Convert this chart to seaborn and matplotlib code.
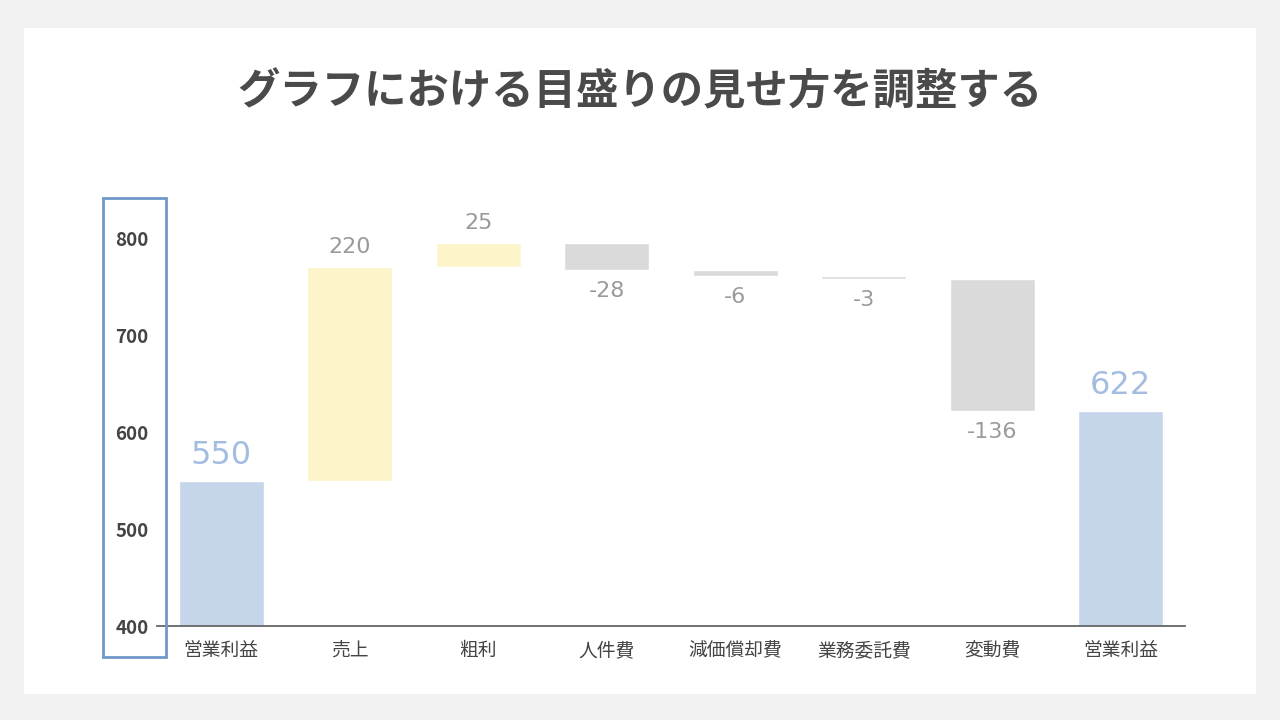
import matplotlib
matplotlib.use("Agg")
import matplotlib.pyplot as plt
from matplotlib.patches import Rectangle
import seaborn as sns
import pandas as pd

categories = ["営業利益", "売上", "粗利", "人件費", "減価償却費", "業務委託費", "変動費", "営業利益 "]
tick_labels = ["営業利益", "売上", "粗利", "人件費", "減価償却費", "業務委託費", "変動費", "営業利益"]
changes = [550, 220, 25, -28, -6, -3, -136, 622]
kinds = ["total", "up", "up", "down", "down", "down", "down", "total"]
y_ticks = [400, 500, 600, 700, 800]
title = "グラフにおける目盛りの見せ方を調整する"

color_map = {"total": "#c5d5ea", "up": "#fdf5c9", "down": "#dadada"}
label_color = {"total": "#a3bde0", "up": "#9a9a9a", "down": "#9a9a9a"}

# waterfall geometry
bottoms, tops = [], []
running = 0
for c, k in zip(changes, kinds):
    if k == "total":
        b, t = 400, c
        running = c
    else:
        b, t = running, running + c
        running = t
    bottoms.append(min(b, t))
    tops.append(max(b, t))

df = pd.DataFrame({"cat": categories, "height": [t - b for b, t in zip(bottoms, tops)]})

sns.set_theme(style="white")
plt.rcParams['font.family'] = ['Noto Sans CJK JP', 'DejaVu Sans']

fig = plt.figure(figsize=(12.8, 7.2), dpi=100)
fig.patch.set_facecolor("#f2f2f2")
fig.patches.append(Rectangle((24/1280, 26/720), 1232/1280, 666/720, transform=fig.transFigure,
                             facecolor="white", edgecolor="none", zorder=-10))

ax = fig.add_axes([157/1280, 94/720, 1028/1280, 417/720])
ax.set_facecolor("none")
ax.set_zorder(2)

sns.barplot(data=df, x="cat", y="height", hue="cat",
            palette=[color_map[k] for k in kinds], legend=False,
            width=0.66, saturation=1, ax=ax, order=categories, hue_order=categories)

for p, b in zip(ax.patches, bottoms):
    p.set_y(b)

ax.set_xlim(-0.5, 7.5)
ax.set_ylim(400, 830)
ax.set_yticks(y_ticks)
ax.set_yticklabels([str(v) for v in y_ticks], fontsize=13.5, fontweight="bold", color="#444444")
ax.set_xticks(range(len(categories)))
ax.set_xticklabels(tick_labels, fontsize=13.5, color="#444444")
ax.tick_params(axis="y", length=0, pad=6)
ax.tick_params(axis="x", length=0, pad=10)
ax.set_xlabel("")
ax.set_ylabel("")
for s in ["top", "right", "left"]:
    ax.spines[s].set_visible(False)
ax.spines["bottom"].set_color("#666666")
ax.spines["bottom"].set_linewidth(1.3)

num_font = ["DejaVu Sans"]
for i, (c, k, b, t) in enumerate(zip(changes, kinds, bottoms, tops)):
    if k == "total":
        ax.annotate(str(c), (i, t), xytext=(0, 7), textcoords="offset points",
                    ha="center", va="bottom", fontsize=23, color=label_color[k],
                    family=num_font)
    elif c > 0:
        ax.annotate(str(c), (i, t), xytext=(0, 7), textcoords="offset points",
                    ha="center", va="bottom", fontsize=16, color=label_color[k],
                    family=num_font)
    else:
        ax.annotate(str(c), (i, b), xytext=(0, -8), textcoords="offset points",
                    ha="center", va="top", fontsize=16, color=label_color[k],
                    family=num_font)

fig.patches.append(Rectangle((103/1280, 63/720), 63/1280, 459/720, transform=fig.transFigure,
                             facecolor="none", edgecolor="#6f98cc", linewidth=2, zorder=5))

fig.text(0.5, 0.872, title, ha="center", va="center", fontsize=30.5, fontweight="bold",
         color="#4a4a4a")

fig.savefig("out.png", dpi=100, facecolor=fig.get_facecolor())
